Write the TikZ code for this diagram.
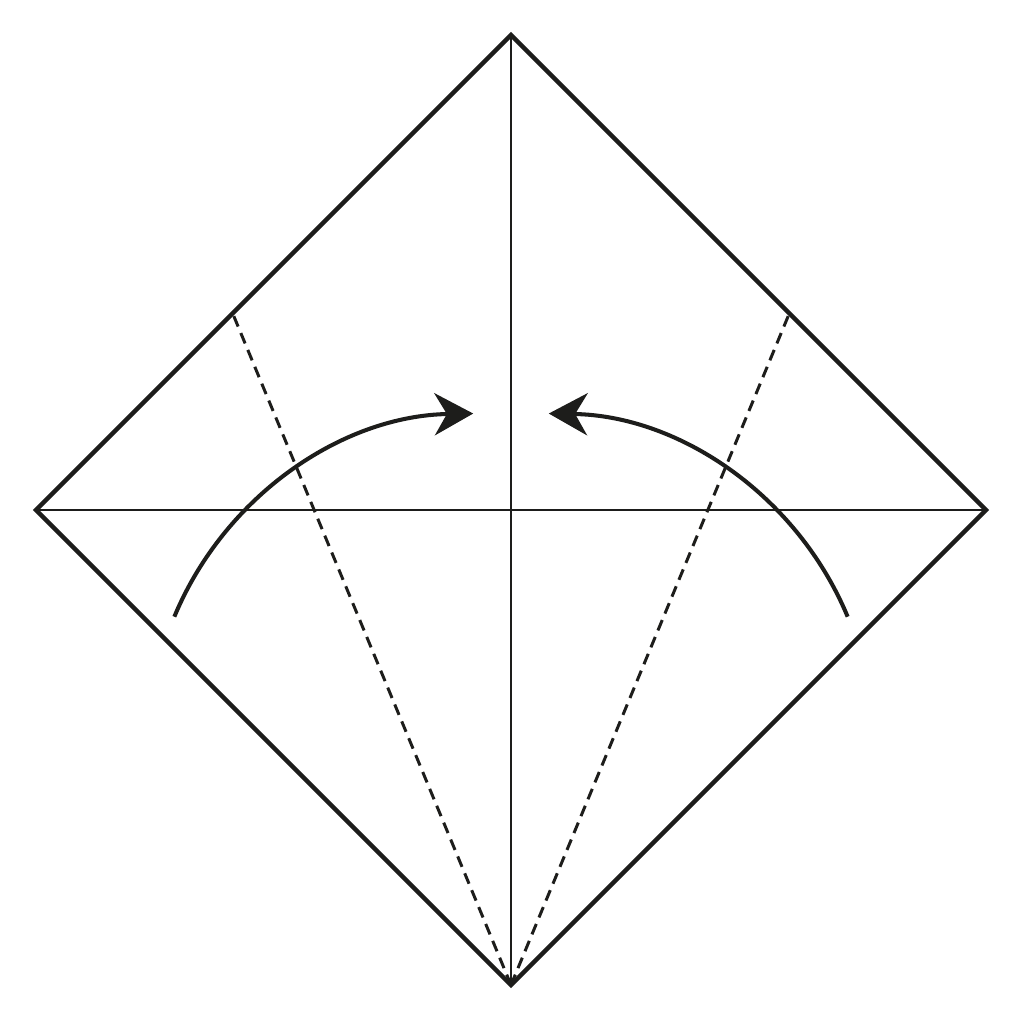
\documentclass[tikz,border=0pt]{standalone}
\usepackage{xcolor}
\usetikzlibrary{arrows.meta, calc}
\definecolor{inkblack}{HTML}{1D1D1B}

\begin{document}
\begin{tikzpicture}[
    edge/.style={draw=inkblack, line width=1.3pt, line join=miter},
    crease/.style={draw=inkblack, line width=0.65pt},
    valley/.style={draw=inkblack, line width=0.85pt, dash pattern=on 3.2pt off 2pt},
    foldarrow/.style={draw=inkblack, line width=1.15pt, -{Stealth[length=11pt, width=12pt, inset=3.5pt]}}
]
\useasboundingbox (0,0) rectangle (10.24,10.24);

% Square corners
\coordinate (top) at (5.11,9.89);
\coordinate (left) at (0.36,5.14);
\coordinate (right) at (9.86,5.14);
\coordinate (bottom) at (5.11,0.39);
\coordinate (mid) at (5.11,5.14);

% Ends of the valley folds
\coordinate (lfold) at ($(left)!0.414!(top)$);
\coordinate (rfold) at ($(right)!0.414!(top)$);

% Centre creases
\draw[crease] (top) -- (bottom);
\draw[crease] (left) -- (right);

% Valley folds
\draw[valley] (bottom) -- (lfold);
\draw[valley] (bottom) -- (rfold);

% Outline
\draw[edge] (top) -- (right) -- (bottom) -- (left) -- cycle;

% Fold arrows
\draw[foldarrow] ($(4.79,2.805)+(157.4:3.3)$) arc[start angle=157.4, end angle=91, radius=3.3];
\draw[foldarrow] ($(5.43,2.805)+(22.6:3.3)$) arc[start angle=22.6, end angle=89, radius=3.3];

\end{tikzpicture}
\end{document}
